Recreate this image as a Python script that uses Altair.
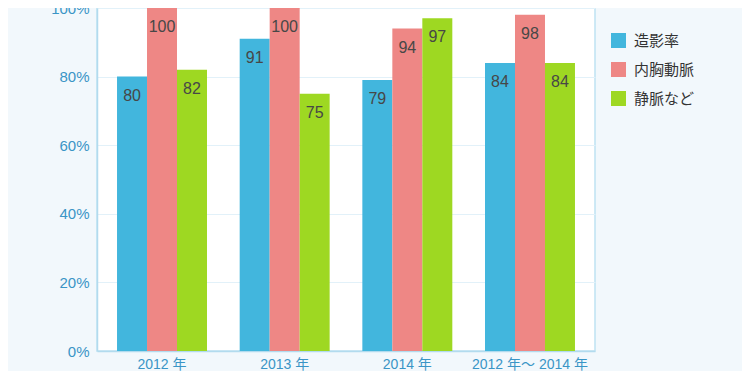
import altair as alt
import pandas as pd

years = ["2012 年", "2013 年", "2014 年", "2012 年〜 2014 年"]
series = ["造影率", "内胸動脈", "静脈など"]
values = {
    "造影率": [80, 91, 79, 84],
    "内胸動脈": [100, 100, 94, 98],
    "静脈など": [82, 75, 97, 84],
}
colors = ["#42b6dd", "#ee8785", "#9ed822"]

rows = []
for s in series:
    for y, v in zip(years, values[s]):
        rows.append({"year": y, "series": s, "value": v})
df = pd.DataFrame(rows)

FONT = "Liberation Sans, Noto Sans CJK JP"

x = alt.X("year:N", sort=years, title=None,
          scale=alt.Scale(paddingInner=0, paddingOuter=0.03),
          axis=alt.Axis(labelAngle=0, ticks=False, labelPadding=6,
                        labelFontSize=14, labelColor="#3a95c6",
                        labelFont=FONT, domainColor="#b2dbee", domainWidth=1.5))
xo = alt.XOffset("series:N", sort=series,
                 scale=alt.Scale(paddingInner=0, paddingOuter=0.545))

base = alt.Chart(df)

bars = base.mark_bar().encode(
    x=x,
    xOffset=xo,
    y=alt.Y("value:Q", title=None,
            scale=alt.Scale(domain=[0, 100], nice=False),
            axis=alt.Axis(values=[0, 20, 40, 60, 80, 100],
                          labelExpr="datum.value + '%'",
                          ticks=False, labelPadding=8, labelFontSize=15,
                          labelColor="#3a95c6", labelFont=FONT,
                          gridColor="#e2f1f9", domainColor="#b2dbee",
                          domainWidth=1.5)),
    color=alt.Color("series:N", sort=series, title=None,
                    scale=alt.Scale(domain=series, range=colors),
                    legend=alt.Legend(orient="none", legendX=514, legendY=25,
                                      symbolType="square", symbolSize=225,
                                      symbolStrokeWidth=0, labelFontSize=15,
                                      labelColor="#333333", labelFont=FONT,
                                      labelOffset=8, rowPadding=13,
                                      padding=0)),
)

labels = base.mark_text(baseline="middle", dy=19, fontSize=16,
                        color="#474747", font=FONT).encode(
    x=x,
    xOffset=xo,
    y="value:Q",
    text="value:Q",
)

chart = alt.layer(bars, labels).properties(
    width=498, height=343,
    background="#f2f8fc",
    padding={"left": 89, "top": 0, "right": 147, "bottom": 20},
    autosize=alt.AutoSizeParams(type="none"),
).configure_view(fill="white", stroke="#bfe2f2", strokeWidth=1.5)

chart.save("out.html", embed_options={"renderer": "svg", "actions": False})
